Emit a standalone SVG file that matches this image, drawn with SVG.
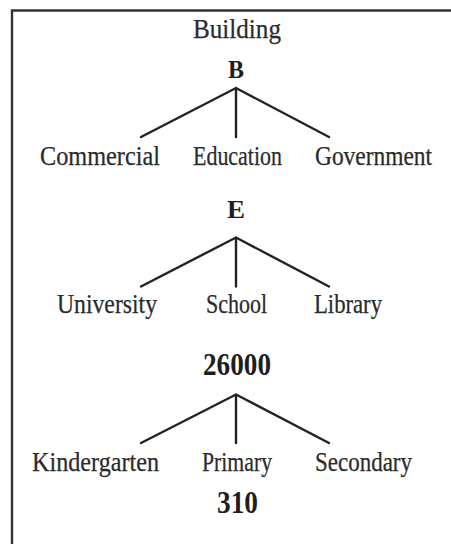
<svg xmlns="http://www.w3.org/2000/svg" width="451" height="544" viewBox="0 0 451 544">
  <style>
    .lbl { font-family: "Liberation Serif", "Times New Roman", serif; font-size: 27px; fill: #2b2b2b; stroke: #2b2b2b; stroke-width: 0.25; }
    .key { font-family: "Liberation Serif", "Times New Roman", serif; font-weight: bold; fill: #1e1e1e; }
    .edge { stroke: #222; stroke-width: 2.4; fill: none; stroke-linecap: round; }
    .frame { stroke: #333; stroke-width: 2.4; fill: none; }
  </style>
  <rect width="451" height="544" fill="#fff"/>

  <!-- open frame: top and left edges only -->
  <path class="frame" d="M12 544 V10.5 H451"/>

  <!-- branch connectors -->
  <g id="connectors">
    <path class="edge" d="M141 137 L236 88 L329 137 M236 88 V137"/>
    <path class="edge" d="M141 286.5 L236 237.5 L329 286.5 M236 237.5 V286.5"/>
    <path class="edge" d="M141 443 L236 394.5 L329 443 M236 394.5 V443"/>
  </g>

  <g id="building"><text class="lbl" x="193" y="38" textLength="88" lengthAdjust="spacingAndGlyphs">Building</text></g>
  <g id="b"><text class="key" x="228" y="78" font-size="25" textLength="16" lengthAdjust="spacingAndGlyphs">B</text></g>

  <g id="commercial"><text class="lbl" x="40" y="164.5" textLength="120" lengthAdjust="spacingAndGlyphs">Commercial</text></g>
  <g id="education"><text class="lbl" x="193" y="164.5" textLength="89" lengthAdjust="spacingAndGlyphs">Education</text></g>
  <g id="government"><text class="lbl" x="315" y="164.5" textLength="117" lengthAdjust="spacingAndGlyphs">Government</text></g>

  <g id="e"><text class="key" x="227" y="218" font-size="26" textLength="18" lengthAdjust="spacingAndGlyphs">E</text></g>

  <g id="university"><text class="lbl" x="57" y="313" textLength="100" lengthAdjust="spacingAndGlyphs">University</text></g>
  <g id="school"><text class="lbl" x="206" y="313" textLength="61" lengthAdjust="spacingAndGlyphs">School</text></g>
  <g id="library"><text class="lbl" x="314" y="313" textLength="68" lengthAdjust="spacingAndGlyphs">Library</text></g>

  <g id="n26000"><text class="key" x="203" y="375" font-size="31" textLength="68" lengthAdjust="spacingAndGlyphs">26000</text></g>

  <g id="kindergarten"><text class="lbl" x="32" y="470.5" textLength="127" lengthAdjust="spacingAndGlyphs">Kindergarten</text></g>
  <g id="primary"><text class="lbl" x="202" y="470.5" textLength="70" lengthAdjust="spacingAndGlyphs">Primary</text></g>
  <g id="secondary"><text class="lbl" x="315" y="470.5" textLength="97" lengthAdjust="spacingAndGlyphs">Secondary</text></g>

  <g id="n310"><text class="key" x="217" y="513" font-size="31" textLength="41" lengthAdjust="spacingAndGlyphs">310</text></g>
</svg>
